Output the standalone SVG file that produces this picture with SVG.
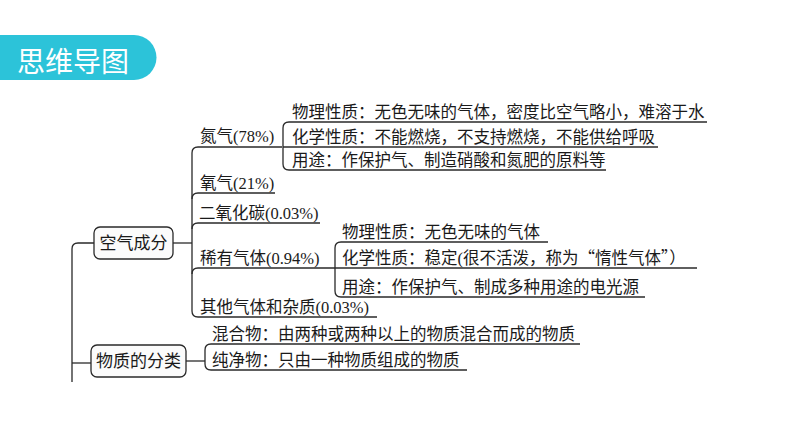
<svg xmlns="http://www.w3.org/2000/svg" width="794" height="447" viewBox="0 0 794 447">
<style>
.t{font-family:"Liberation Serif","Noto Sans CJK SC",serif;font-size:16.5px;fill:#1a1a1a}
.b{font-family:"Liberation Serif","Noto Sans CJK SC",serif;font-size:17px;fill:#1a1a1a;text-anchor:middle}
.cjk{font-family:"Noto Sans CJK SC",sans-serif}
.ln{fill:none;stroke:#2a2a2a;stroke-width:1.3}
.box{fill:#fbfbfb;stroke:#2a2a2a;stroke-width:1.3}
</style>
<rect width="794" height="447" fill="#fff"/>
<g id="title">
<path d="M0,35 H134 A22.5,22.5 0 0 1 134,80 H0 Z" fill="#2cc3d9"/>
<text x="17" y="72" font-family="'Noto Sans CJK SC',sans-serif" font-size="28" fill="#fff">思维导图</text>
</g>
<g id="connectors">
<path class="ln" d="M94,243 H78 Q72,243 72,249 V382"/>
<path class="ln" d="M72,363 H91"/>
<path class="ln" d="M173,243 H192"/>
<path class="ln" d="M282,147 H198 Q192,147 192,153 V311 Q192,317 198,317 H377"/>
<path class="ln" d="M192,199 Q192,193 198,193 H275"/>
<path class="ln" d="M192,229 Q192,223 198,223 H320"/>
<path class="ln" d="M192,274 Q192,268 198,268 H335"/>
<path class="ln" d="M707,122 H289 Q283,122 283,128 V164 Q283,170 289,170 H606"/>
<path class="ln" d="M283,147 H658"/>
<path class="ln" d="M548,242 H341 Q335,242 335,248 V291 Q335,297 341,297 H645"/>
<path class="ln" d="M335,268 H697"/>
<path class="ln" d="M186,361 H205"/>
<path class="ln" d="M580,344 H211 Q205,344 205,350 V364 Q205,370 211,370 H467"/>
</g>
<g id="air">
<rect class="box" x="94" y="227" width="79" height="32" rx="6"/>
<text class="b" x="133.5" y="249">空气成分</text>
</g>
<g id="classify">
<rect class="box" x="91" y="345" width="95" height="32" rx="6"/>
<text class="b" x="138.5" y="367">物质的分类</text>
</g>
<g id="n2"><text class="t" x="200" y="142">氮气(78%)</text></g>
<g id="n2-phys"><text class="t" x="292" y="118">物理性质：无色无味的气体，密度比空气略小，难溶于水</text></g>
<g id="n2-chem"><text class="t" x="292" y="143">化学性质：不能燃烧，不支持燃烧，不能供给呼吸</text></g>
<g id="n2-use"><text class="t" x="292" y="166">用途：作保护气、制造硝酸和氮肥的原料等</text></g>
<g id="o2"><text class="t" x="200" y="189">氧气(21%)</text></g>
<g id="co2"><text class="t" x="199" y="219">二氧化碳(0.03%)</text></g>
<g id="rare"><text class="t" x="200" y="264">稀有气体(0.94%)</text></g>
<g id="rare-phys"><text class="t" x="342" y="238">物理性质：无色无味的气体</text></g>
<g id="rare-chem"><text class="t" x="342" y="264">化学性质：稳定(很不活泼，称为<tspan class="cjk">“</tspan>惰性气体<tspan class="cjk">”）</tspan></text></g>
<g id="rare-use"><text class="t" x="342" y="293">用途：作保护气、制成多种用途的电光源</text></g>
<g id="other"><text class="t" x="200" y="313">其他气体和杂质(0.03%)</text></g>
<g id="mix"><text class="t" x="212" y="340">混合物：由两种或两种以上的物质混合而成的物质</text></g>
<g id="pure"><text class="t" x="212" y="366">纯净物：只由一种物质组成的物质</text></g>
</svg>
